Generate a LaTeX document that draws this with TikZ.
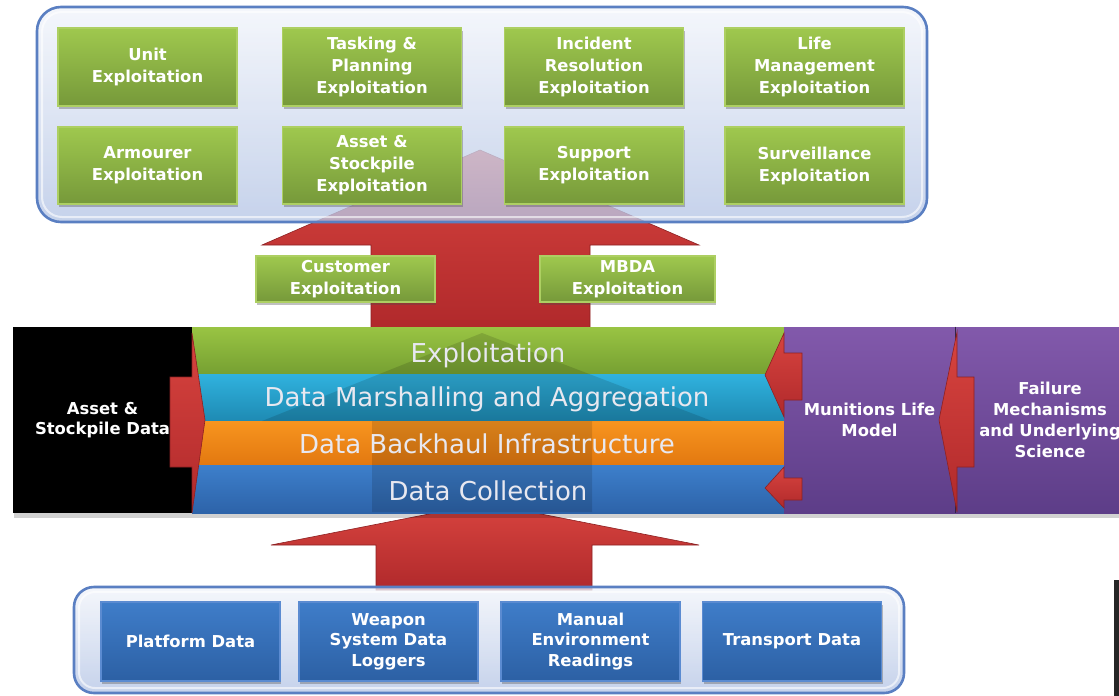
\documentclass[tikz,border=0pt]{standalone}
\usepackage{fontspec}
\setmainfont{DejaVu Sans}
\usetikzlibrary{shadows}
\definecolor{gtop}{HTML}{9FC84E}
\definecolor{gbot}{HTML}{76993A}
\definecolor{gedge}{HTML}{ADCF62}
\definecolor{btop}{HTML}{3F7DC9}
\definecolor{bbot}{HTML}{2C60A4}
\definecolor{bedge}{HTML}{5B8BD1}
\definecolor{ctop}{HTML}{F2F5FB}
\definecolor{cbot}{HTML}{B6C6E6}
\definecolor{cedge}{HTML}{5A7FC2}
\definecolor{rtop}{HTML}{D8443F}
\definecolor{rbot}{HTML}{B0292B}
\definecolor{ptop}{HTML}{8259AB}
\definecolor{pbot}{HTML}{5D3D88}
\definecolor{exA}{HTML}{99C443}
\definecolor{exB}{HTML}{76A032}
\definecolor{cyA}{HTML}{30B2DE}
\definecolor{cyB}{HTML}{1E8AB3}
\definecolor{orA}{HTML}{F8951F}
\definecolor{orB}{HTML}{E27810}
\definecolor{blA}{HTML}{3D7FCB}
\definecolor{blB}{HTML}{2D63A9}
\definecolor{bandtext}{HTML}{E8E8F0}
\tikzset{
  lbl/.style={text=white, font=\bfseries\fontsize{8.2}{11}\selectfont, align=center, inner sep=0pt},
  gbox/.style={lbl, rectangle, draw=gedge, line width=0.6pt, top color=gtop, bottom color=gbot,
    minimum width=89.5pt, drop shadow={shadow xshift=0.6pt, shadow yshift=-1.6pt, opacity=0.35, fill=black!70}},
  bbox/.style={lbl, rectangle, draw=bedge, line width=0.6pt, top color=btop, bottom color=bbot,
    minimum width=89.5pt, minimum height=39.5pt, font=\bfseries\fontsize{8.2}{10.3}\selectfont,
    drop shadow={shadow xshift=0.6pt, shadow yshift=-1.6pt, opacity=0.35, fill=black!70}},
  container/.style={draw=cedge, line width=1.3pt, top color=ctop, bottom color=cbot, fill opacity=0.78},
  band/.style={rectangle, inner sep=0pt, minimum width=296pt, text=bandtext, font=\fontsize{13}{15}\selectfont},
  redarrow/.style={top color=rtop, bottom color=rbot, draw=rbot!80!black, line width=0.3pt},
  purplebox/.style={lbl, rectangle, top color=ptop, bottom color=pbot, minimum height=93pt, font=\bfseries\fontsize{8.2}{10.5}\selectfont},
}
\begin{document}
\begin{tikzpicture}[x=0.5pt,y=-0.5pt]
\useasboundingbox (0,0) rectangle (1119,696);
\clip (0,0) rectangle (1119,696);
\fill[white] (0,0) rectangle (1119,696);

% top block arrow (behind top container)
\coordinate (ta1) at (371,330);
\coordinate (ta2) at (590,330);
\path[redarrow] (ta1) -- (371,245) -- (262,245) -- (480,150) -- (699,245) -- (590,245) -- (ta2) -- cycle;

% top container
\path[container, rounded corners=12pt] (37,7) rectangle (927,222);
\draw[white, opacity=0.6, line width=1pt, rounded corners=10pt] (42,12) rectangle (922,217);

% top green boxes
\node[gbox, minimum height=39pt] (unit) at (147.5,67) {Unit\\Exploitation};
\node[gbox, minimum height=39pt] (task) at (372,67) {Tasking \&\\Planning\\Exploitation};
\node[gbox, minimum height=39pt] (inc) at (594,67) {Incident\\Resolution\\Exploitation};
\node[gbox, minimum height=39pt] (life) at (814.5,67) {Life\\Management\\Exploitation};
\node[gbox, minimum height=38.5pt] (arm) at (147.5,165.5) {Armourer\\Exploitation};
\node[gbox, minimum height=38.5pt] (asset) at (372,165.5) {Asset \&\\Stockpile\\Exploitation};
\node[gbox, minimum height=38.5pt] (sup) at (594,165.5) {Support\\Exploitation};
\node[gbox, minimum height=38.5pt] (surv) at (814.5,165.5) {Surveillance\\Exploitation};

% customer / MBDA boxes
\node[gbox, minimum height=23pt] (cust) at (345.5,279) {Customer\\Exploitation};
\node[gbox, minimum height=23pt, minimum width=87.5pt] (mbda) at (627.5,279) {MBDA\\Exploitation};

% bottom block arrow (behind band and bottom container)
\coordinate (ba1) at (376,590);
\coordinate (ba2) at (592,590);
\path[redarrow] (ba1) -- (376,545) -- (271,545) -- (485,503) -- (699,545) -- (592,545) -- (ba2) -- cycle;

% band shadow
\fill[black, opacity=0.18] (14,513) rectangle (1119,518);

% central bands
\node[band, minimum height=23.5pt, top color=exA, bottom color=exB] (exb) at (488,350.5) {};
\node[band, minimum height=23.5pt, top color=cyA, bottom color=cyB] (mab) at (488,397.5) {};
\node[band, minimum height=22pt, top color=orA, bottom color=orB] (bab) at (488,443) {};
\node[band, minimum height=24pt, top color=blA, bottom color=blB] (dcb) at (488,489) {};
% translucent reflection of the arrow within the band
\fill[black, opacity=0.13] (372,512) -- (372,421) -- (262,421) -- (482,333) -- (712,421) -- (592,421) -- (592,512) -- cycle;
\node[text=bandtext, font=\fontsize{13}{15}\selectfont, inner sep=0pt] (ext) at (488,355) {Exploitation};
\node[text=bandtext, font=\fontsize{13}{15}\selectfont, inner sep=0pt] (mat) at (487,399) {Data Marshalling and Aggregation};
\node[text=bandtext, font=\fontsize{13}{15}\selectfont, inner sep=0pt] (bat) at (487,444) {Data Backhaul Infrastructure};
\node[text=bandtext, font=\fontsize{13}{15}\selectfont, inner sep=0pt] (dct) at (488,491) {Data Collection};

% left black box
\node[lbl, rectangle, fill=black, minimum width=89.5pt, minimum height=93pt, font=\bfseries\fontsize{8.2}{9.8}\selectfont] (asd) at (102.5,420) {Asset \&\\Stockpile Data};

% right purple boxes
\node[purplebox, minimum width=85.5pt] (mlm) at (869.5,420) {Munitions Life\\Model};
\node[purplebox, minimum width=95pt] (fail) at (1050,420) {Failure\\Mechanisms\\and Underlying\\Science};
\draw[black!60!ptop, line width=0.8pt] (mlm.north east) -- (mlm.south east);

% small red arrows
\path[redarrow] (170,377) -- (192,377) -- (192,333) -- (205,420) -- (192,513) -- (192,467) -- (170,467) -- cycle;
\path[redarrow] (802,353) -- (784,353) -- (784,333) -- (765,375) -- (784,417) -- (784,400) -- (802,400) -- cycle;
\path[redarrow] (802,478) -- (784,478) -- (784,467) -- (765,488) -- (784,508) -- (784,500) -- (802,500) -- cycle;
\path[redarrow] (974,377) -- (957,377) -- (957,332) -- (939,420) -- (957,512) -- (957,467) -- (974,467) -- cycle;

% bottom container
\path[container, rounded corners=10pt] (74,587) rectangle (904,693);
\draw[white, opacity=0.6, line width=1pt, rounded corners=8pt] (79,592) rectangle (899,688);

% bottom blue boxes
\node[bbox] (plat) at (190.5,641.5) {Platform Data};
\node[bbox] (weap) at (388.5,641.5) {Weapon\\System Data\\Loggers};
\node[bbox] (man) at (590.5,641.5) {Manual\\Environment\\Readings};
\node[bbox] (trans) at (792,641.5) {Transport Data};

% edge artefact at right
\fill[black!85] (1114,580) rectangle (1119,696);
\end{tikzpicture}
\end{document}
